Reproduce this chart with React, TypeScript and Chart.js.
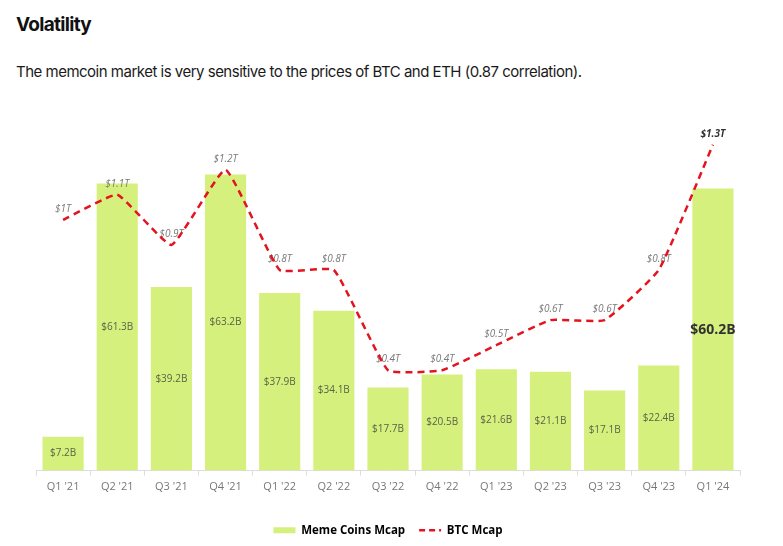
import { useEffect, useRef } from "react";
import { Chart, registerables } from "chart.js";

Chart.register(...registerables);

const quarters = ["Q1 '21", "Q2 '21", "Q3 '21", "Q4 '21", "Q1 '22", "Q2 '22", "Q3 '22", "Q4 '22", "Q1 '23", "Q2 '23", "Q3 '23", "Q4 '23", "Q1 '24"];
// Meme coin market cap, billions of USD
const memeMcapB = [7.2, 61.3, 39.2, 63.2, 37.9, 34.1, 17.7, 20.5, 21.6, 21.1, 17.1, 22.4, 60.2];
// Bitcoin market cap, trillions of USD
const btcMcapT = [1, 1.1, 0.9, 1.2, 0.8, 0.8, 0.4, 0.4, 0.5, 0.6, 0.6, 0.8, 1.3];

const BAR_COLOR = "#d6f07e";
const LINE_COLOR = "#e3141f";
const FONT = "'Open Sans', 'DejaVu Sans', sans-serif";

// Draws the value labels right after the bars, so the dashed line stays on top.
const valueLabels = {
  id: "valueLabels",
  afterDatasetDraw(chart: any, args: any) {
    if (args.index !== 0) return;
    const ctx = chart.ctx as CanvasRenderingContext2D;
    const barMeta = chart.getDatasetMeta(0);
    const lineMeta = chart.getDatasetMeta(1);
    const lastIdx = memeMcapB.length - 1;
    ctx.save();
    ctx.textAlign = "center";
    ctx.textBaseline = "middle";
    barMeta.data.forEach((bar: any, i: number) => {
      const { x, y, base } = bar.getProps(["x", "y", "base"], true);
      const last = i === lastIdx;
      ctx.font = last ? `bold 14px ${FONT}` : `10px ${FONT}`;
      ctx.fillStyle = last ? "#333333" : "#5d6347";
      ctx.fillText(`$${memeMcapB[i]}B`, x, (y + base) / 2);
    });
    lineMeta.data.forEach((pt: any, i: number) => {
      const { x, y } = pt.getProps(["x", "y"], true);
      const last = i === lastIdx;
      ctx.font = last ? `italic bold 10px ${FONT}` : `italic 10px ${FONT}`;
      ctx.fillStyle = last ? "#333333" : "#7a7a7a";
      ctx.fillText(`$${btcMcapT[i]}T`, x, y - 11);
    });
    ctx.restore();
  },
};

export default function App() {
  const canvasRef = useRef<HTMLCanvasElement | null>(null);

  useEffect(() => {
    if (!canvasRef.current) return;
    const chart = new Chart(canvasRef.current, {
      type: "bar",
      data: {
        labels: quarters,
        datasets: [
          {
            type: "bar",
            label: "Meme Coins Mcap",
            data: memeMcapB,
            backgroundColor: BAR_COLOR,
            borderWidth: 0,
            barPercentage: 0.76,
            categoryPercentage: 1,
            yAxisID: "yMeme",
            order: 2,
          },
          {
            type: "line",
            label: "BTC Mcap",
            data: btcMcapT,
            borderColor: LINE_COLOR,
            backgroundColor: LINE_COLOR,
            borderWidth: 2.5,
            borderDash: [7, 5],
            pointRadius: 0,
            tension: 0.12,
            yAxisID: "yBtc",
            order: 1,
          } as any,
        ],
      },
      plugins: [valueLabels],
      options: {
        animation: false,
        responsive: true,
        maintainAspectRatio: false,
        layout: { padding: { left: 36, right: 43, top: 30, bottom: 0 } },
        scales: {
          x: {
            grid: { display: true, drawOnChartArea: false, color: "#dddddd", tickLength: 5, offset: true },
            border: { display: true, color: "#dddddd" },
            ticks: { color: "#777777", font: { family: FONT, size: 11 }, padding: 5 },
            afterFit: (scale: any) => {
              scale.height = 40;
            },
          },
          yMeme: { display: false, min: 0, max: 72.7 },
          yBtc: { display: false, min: 0, max: 1.3586 },
        },
        plugins: {
          title: { display: false },
          tooltip: { enabled: false },
          legend: {
            position: "bottom",
            labels: {
              usePointStyle: true,
              boxHeight: 6,
              pointStyleWidth: 22,
              padding: 14,
              color: "#555555",
              font: { family: FONT, size: 11.5, weight: "bold" },
              generateLabels: () => [
                {
                  text: "Meme Coins Mcap",
                  fillStyle: BAR_COLOR,
                  strokeStyle: BAR_COLOR,
                  lineWidth: 0,
                  pointStyle: "rect",
                  datasetIndex: 0,
                  hidden: false,
                },
                {
                  text: "BTC Mcap",
                  fillStyle: LINE_COLOR,
                  strokeStyle: LINE_COLOR,
                  lineWidth: 2.5,
                  lineDash: [6, 4],
                  pointStyle: "line",
                  datasetIndex: 1,
                  hidden: false,
                },
              ],
            },
          },
        },
      },
    });
    return () => chart.destroy();
  }, []);

  return (
    <div style={{ position: "fixed", left: 0, top: 0, width: 783, height: 546, background: "#ffffff", overflow: "hidden" }}>
      <div
        style={{
          position: "absolute",
          left: 16,
          top: 13,
          fontFamily: "Inter, 'Open Sans', sans-serif",
          fontWeight: 700,
          fontSize: 19,
          letterSpacing: "-0.7px",
          color: "#111111",
        }}
      >
        Volatility
      </div>
      <div
        style={{
          position: "absolute",
          left: 16,
          top: 62,
          fontFamily: "Inter, 'Open Sans', sans-serif",
          fontSize: 15,
          letterSpacing: "-0.5px",
          color: "#1a1a1a",
        }}
      >
        The memcoin market is very sensitive to the prices of BTC and ETH (0.87 correlation).
      </div>
      <div style={{ position: "absolute", left: 0, top: 100, width: 783, height: 446 }}>
        <canvas ref={canvasRef} />
      </div>
    </div>
  );
}
